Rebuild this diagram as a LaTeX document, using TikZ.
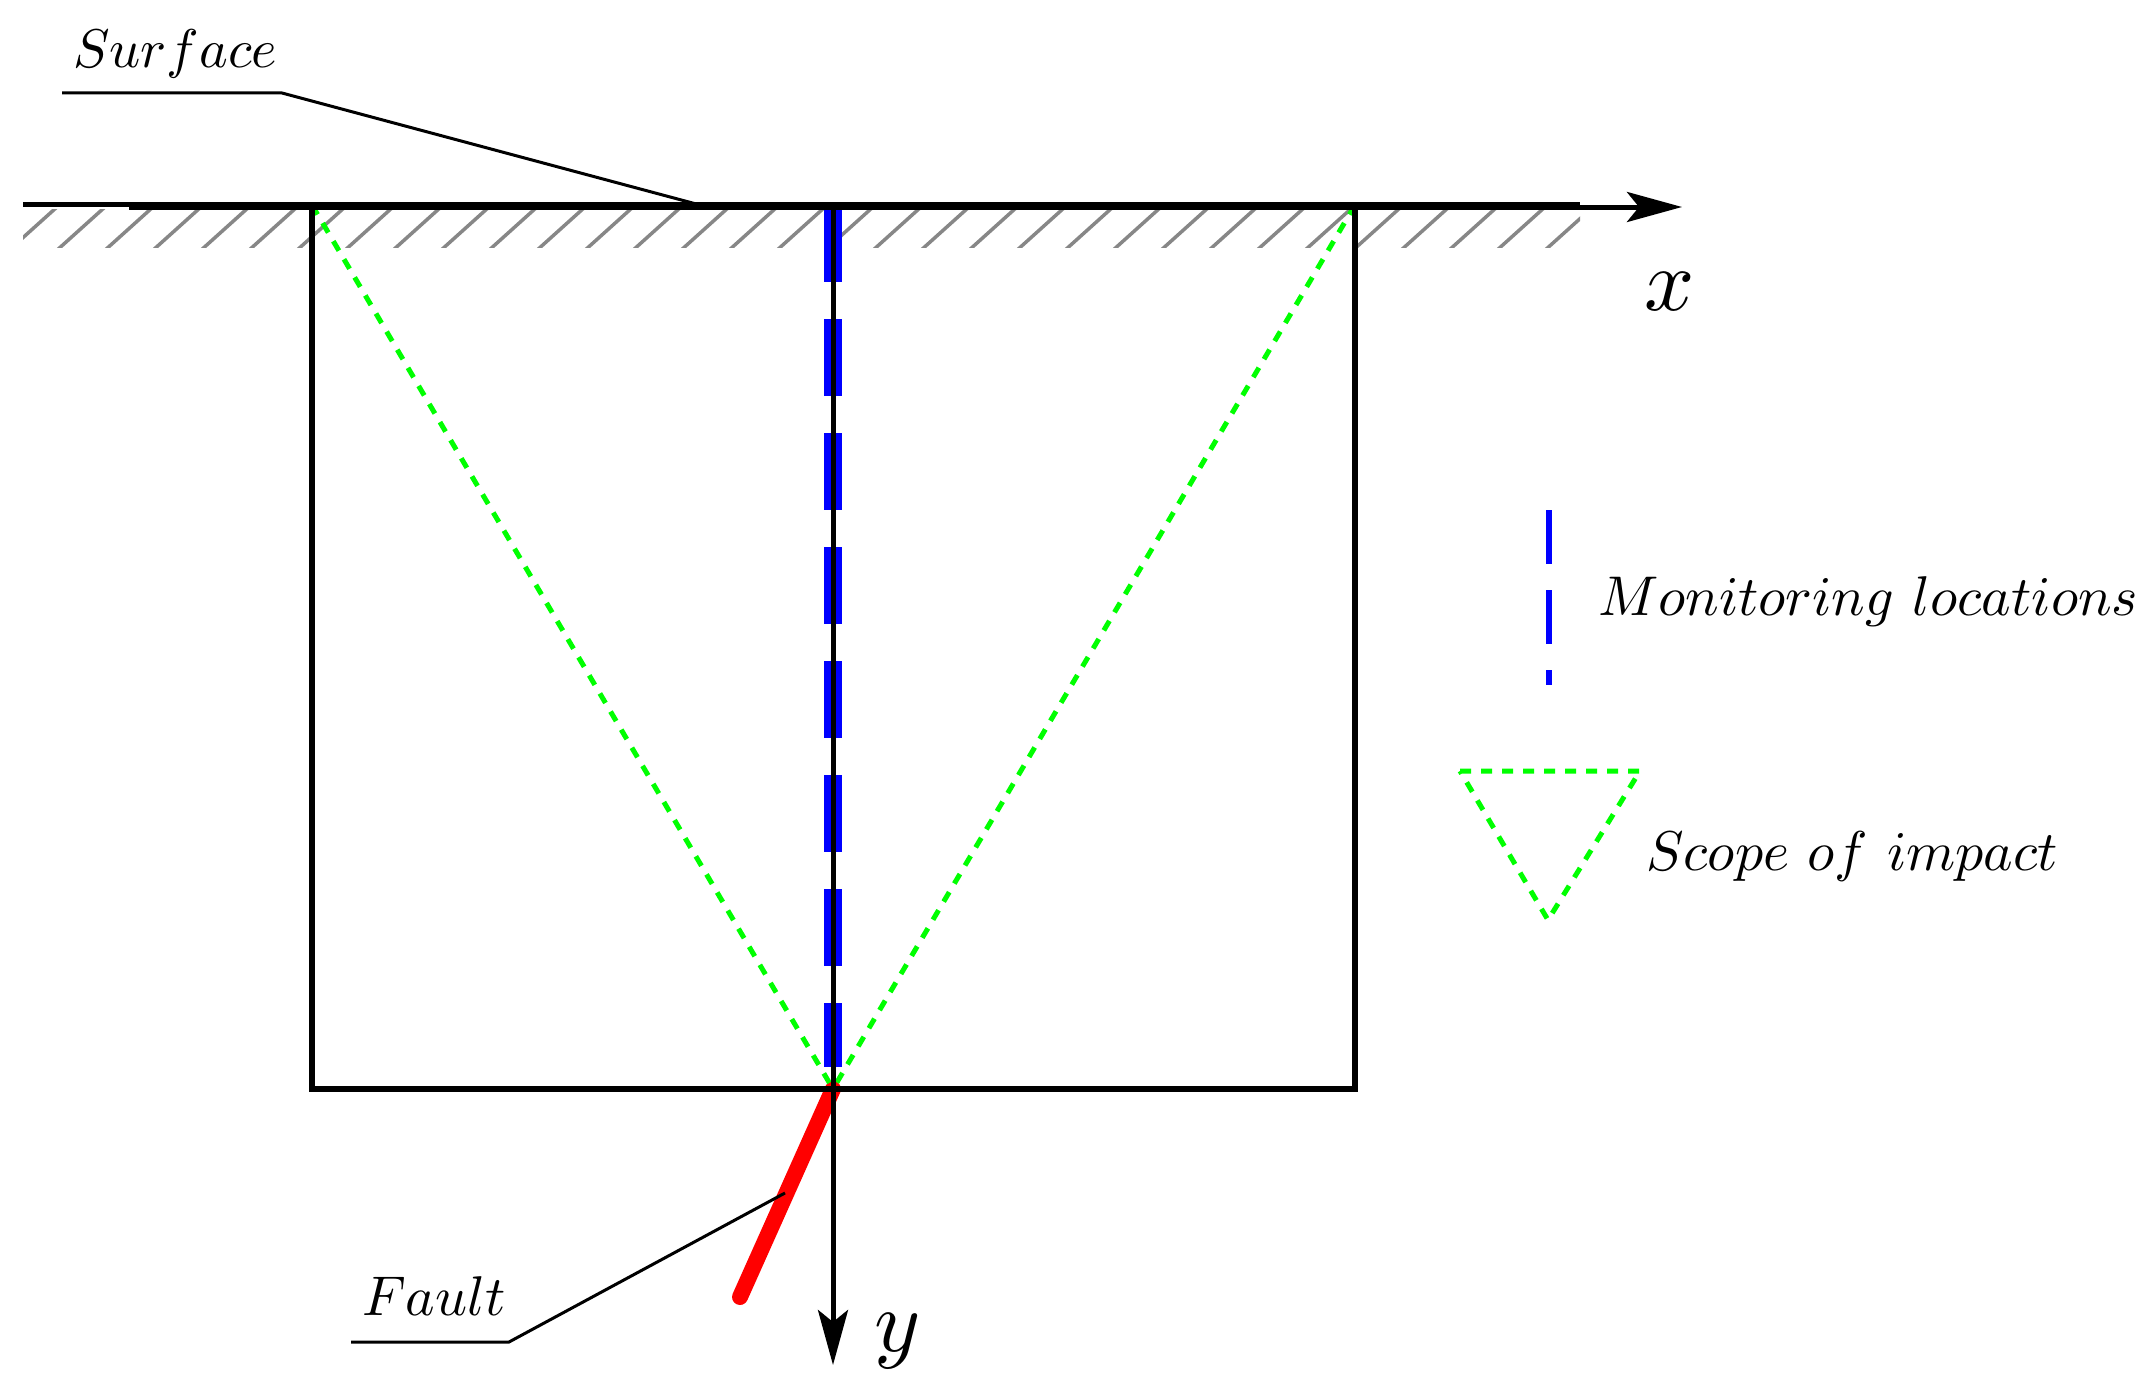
\documentclass[tikz,border=0pt]{standalone}
\usepackage{graphicx}
\usetikzlibrary{arrows.meta}
\definecolor{fgreen}{RGB}{0,255,0}
\definecolor{fblue}{RGB}{0,0,255}
\definecolor{fred}{RGB}{255,0,0}
\definecolor{hatchgray}{RGB}{135,135,135}
\newcommand{\biglbl}[1]{\scalebox{5.6}{$#1$}}
\newcommand{\axislbl}[1]{\scalebox{8.8}{$#1$}}
\begin{document}
\begin{tikzpicture}[x=1pt,y=-1pt,
  lbl/.style={anchor=base west, inner sep=0pt},
  leader/.style={line width=3pt, black},
  hatchline/.style={hatchgray, line width=3.5pt},
  axisline/.style={line width=5pt, black, -{Stealth[length=55pt,width=30pt,inset=12pt]}},
  scopeline/.style={fgreen, line width=5pt, dash pattern=on 11pt off 10pt},
  monline/.style={fblue, line width=18.7pt, dash pattern=on 77pt off 37pt},
  monlegend/.style={fblue, line width=6.7pt, dash pattern=on 54pt off 26pt},
  faultline/.style={fred, line width=16pt, line cap=round},
  frame/.style={line width=5.5pt, black}
]
\useasboundingbox (0,0) rectangle (2148,1386);

% named points
\coordinate (tl) at (312,205);
\coordinate (tr) at (1355,205);
\coordinate (br) at (1355,1089);
\coordinate (apex) at (833,1089);
\coordinate (fbot) at (740,1297);
\coordinate (xstart) at (129,207);
\coordinate (xtip) at (1682,207);
\coordinate (ytop) at (833,205);
\coordinate (ytip) at (833,1365);
\coordinate (mtop) at (833,205);
\coordinate (mbot) at (833,1067);
\coordinate (sl) at (23,204.5);
\coordinate (sr) at (1580,204.5);

% hatching under the surface
\begin{scope}
  \clip (23,209) rectangle (1580,247);
  \foreach \i in {0,...,33}
    \draw[hatchline] ({7+48*\i},252) -- ({57+48*\i},207);
\end{scope}

% fault
\draw[faultline] (apex) -- (fbot);

% scope of impact
\draw[scopeline] (tl) -- (apex);
\draw[scopeline] (tr) -- (apex);

% monitoring locations
\draw[monline] (mtop) -- (mbot);

% frame
\draw[frame] (tl) rectangle (br);

% surface line
\draw[line width=5pt] (sl) -- (sr);

% axes
\draw[axisline] (xstart) -- (xtip);
\draw[axisline] (ytop) -- (ytip);
\node[lbl] (lx) at (1644,310) {\axislbl{x}};
\node[lbl] (ly) at (874,1351) {\axislbl{y}};

% surface label and leader
\node[lbl] (tsurf) at (73,68) {\scalebox{5.45}{$Surface$}};
\coordinate (s1) at (62,93);
\coordinate (s2) at (282,93);
\coordinate (s3) at (700,205);
\draw[leader] (s1) -- (s2) -- (s3);

% fault label and leader
\node[lbl] (tfault) at (362,1315) {\biglbl{Fault}};
\coordinate (f1) at (785,1193);
\coordinate (f2) at (509,1342);
\coordinate (f3) at (351,1342);
\draw[leader] (f1) -- (f2) -- (f3);

% legend
\coordinate (m1) at (1549,510);
\coordinate (m2) at (1549,685);
\draw[monlegend] (m1) -- (m2);
\node[lbl] (tmon) at (1598,615) {\biglbl{Monitoring\ locations}};

\coordinate (g1) at (1460,771);
\coordinate (g2) at (1640,771);
\coordinate (g3) at (1548,920);
\draw[scopeline] (g1) -- (g2) -- (g3) -- cycle;
\node[lbl] (tscope) at (1646,870) {\biglbl{Scope\ of\ impact}};
\end{tikzpicture}
\end{document}
